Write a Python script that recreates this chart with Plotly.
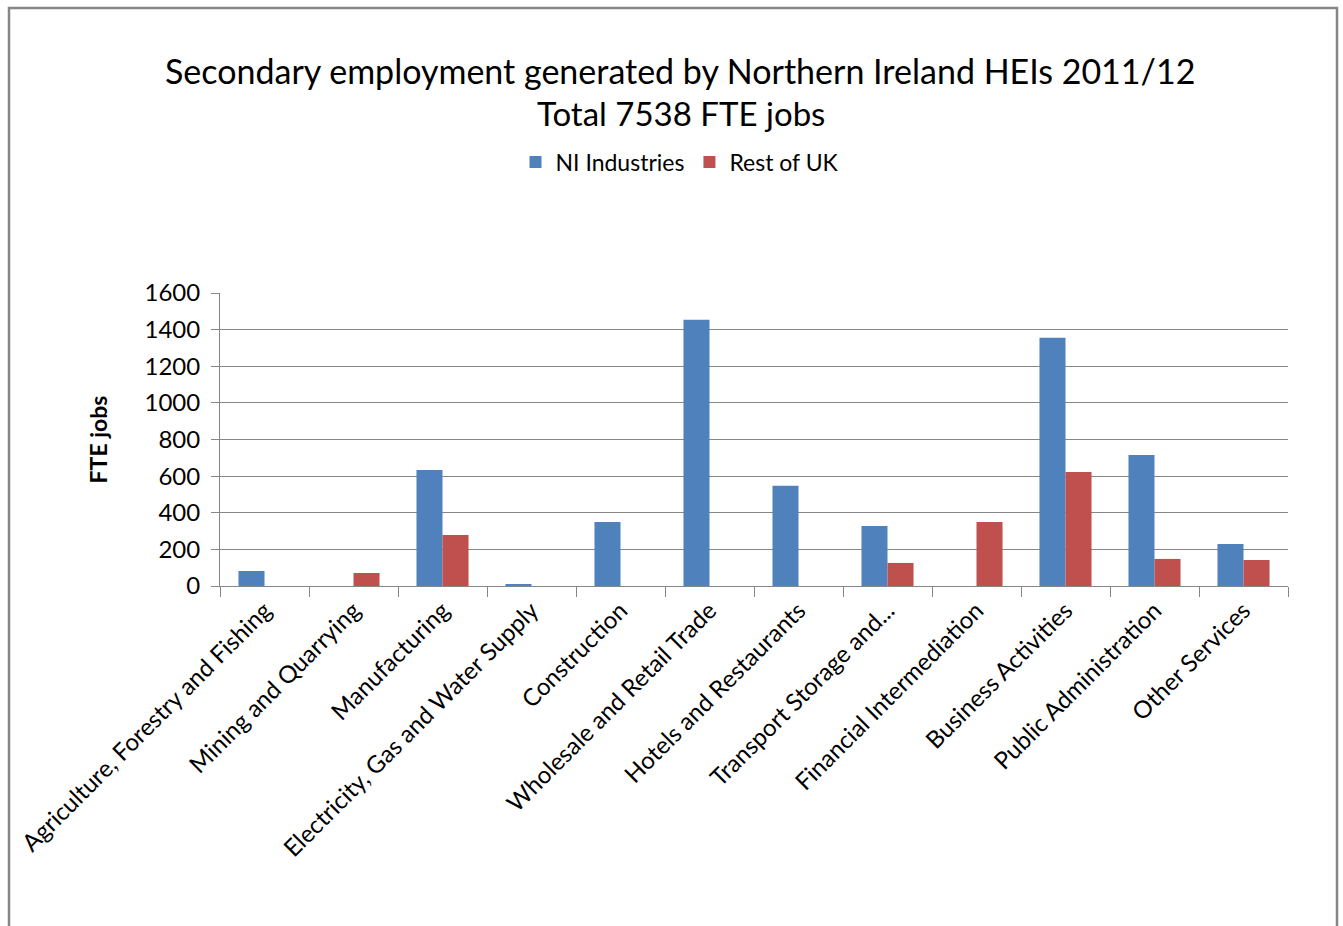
import plotly.graph_objects as go

categories = [
    "Agriculture, Forestry and Fishing",
    "Mining and Quarrying",
    "Manufacturing",
    "Electricity, Gas and Water Supply",
    "Construction",
    "Wholesale and Retail Trade",
    "Hotels and Restaurants",
    "Transport Storage and...",
    "Financial Intermediation",
    "Business Activities",
    "Public Administration",
    "Other Services",
]
ni_industries = [82, 0, 634, 11, 350, 1454, 547, 328, 0, 1356, 716, 230]
rest_of_uk = [0, 71, 279, 0, 0, 0, 0, 126, 350, 623, 148, 142]
y_ticks = [0, 200, 400, 600, 800, 1000, 1200, 1400, 1600]

FONT = "Lato, Calibri, Carlito, sans-serif"

# plot-area pixel geometry (for converting to paper coords)
L, R, T, B = 220, 1288, 293, 586
W, H = R - L, B - T

def px_x(x):
    return (x - L) / W

def px_y(y):
    return (B - y) / H

fig = go.Figure()
fig.add_trace(go.Bar(name="NI Industries", x=categories, y=ni_industries,
                     marker=dict(color="#4F81BD", line=dict(width=0))))
fig.add_trace(go.Bar(name="Rest of UK", x=categories, y=rest_of_uk,
                     marker=dict(color="#C0504D", line=dict(width=0))))

fig.update_layout(
    width=1343, height=926,
    margin=dict(l=L, r=1343 - R, t=T, b=926 - B, autoexpand=False),
    paper_bgcolor="white", plot_bgcolor="white",
    barmode="group", bargap=0.415, bargroupgap=0,
    font=dict(family=FONT, color="black"),
    showlegend=True,
    legend=dict(orientation="h", x=px_x(680), y=px_y(162),
                xanchor="center", yanchor="middle",
                font=dict(size=23, family=FONT), itemwidth=30,
                bgcolor="rgba(0,0,0,0)"),
    xaxis=dict(
        type="category", tickangle=-45, tickfont=dict(size=24, family=FONT),
        showline=True, linecolor="#868686", linewidth=1,
        ticks="outside", ticklen=10, tickcolor="#868686", tickson="boundaries",
        showgrid=False, fixedrange=True,
    ),
    yaxis=dict(
        range=[0, 1600], tickvals=y_ticks,
        tickfont=dict(size=24, family=FONT),
        showline=True, linecolor="#868686", linewidth=1,
        ticks="outside", ticklen=8, tickcolor="#868686",
        ticklabelstandoff=6,
        showgrid=True, gridcolor="#868686", gridwidth=1,
        zeroline=False,
        title=dict(text="<b>FTE jobs</b>", font=dict(size=23, family=FONT), standoff=30),
    ),
    annotations=[
        dict(text="Secondary employment generated by Northern Ireland HEIs 2011/12",
             xref="paper", yref="paper", x=px_x(680), y=px_y(70),
             xanchor="center", yanchor="middle", showarrow=False,
             font=dict(size=34, family=FONT)),
        dict(text="Total 7538 FTE jobs",
             xref="paper", yref="paper", x=px_x(681), y=px_y(113),
             xanchor="center", yanchor="middle", showarrow=False,
             font=dict(size=33, family=FONT)),
    ],
    shapes=[
        dict(type="rect", xref="paper", yref="paper",
             x0=px_x(9), x1=px_x(1337), y0=px_y(940), y1=px_y(8),
             line=dict(color="#868686", width=2.5), fillcolor="rgba(0,0,0,0)",
             layer="below"),
    ],
)

fig.write_html("out.html")
